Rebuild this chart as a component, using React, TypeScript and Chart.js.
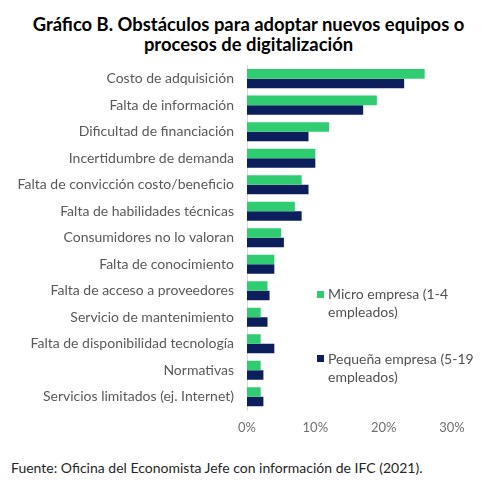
import React, { useEffect, useRef } from "react";
import { Chart, registerables } from "chart.js";

Chart.register(...registerables);

const categories = [
  "Costo de adquisición",
  "Falta de información",
  "Dificultad de financiación",
  "Incertidumbre de demanda",
  "Falta de convicción costo/beneficio",
  "Falta de habilidades técnicas",
  "Consumidores no lo valoran",
  "Falta de conocimiento",
  "Falta de acceso a proveedores",
  "Servicio de mantenimiento",
  "Falta de disponibilidad tecnología",
  "Normativas",
  "Servicios limitados (ej. Internet)",
];

const microValues = [26, 19, 12, 10, 8, 7, 5, 4, 3, 2, 2, 2, 2];
const pequenaValues = [23, 17, 9, 10, 9, 8, 5.4, 4, 3.3, 3, 4, 2.4, 2.4];

const seriesLabels = ["Micro empresa (1-4 empleados)", "Pequeña empresa (5-19 empleados)"];
const legendLines = [
  ["Micro empresa (1-4", "empleados)"],
  ["Pequeña empresa (5-19", "empleados)"],
];
const xTicks = [0, 10, 20, 30];

const GREEN = "#2fcc72";
const NAVY = "#0c1f5c";
const FONT = "Lato, 'Open Sans', sans-serif";

export default function App() {
  const ref = useRef<HTMLCanvasElement | null>(null);

  useEffect(() => {
    if (!ref.current) return;
    const chart = new Chart(ref.current, {
      type: "bar",
      data: {
        labels: categories,
        datasets: [
          {
            label: seriesLabels[0],
            data: microValues,
            backgroundColor: GREEN,
            categoryPercentage: 0.72,
            barPercentage: 1,
          },
          {
            label: seriesLabels[1],
            data: pequenaValues,
            backgroundColor: NAVY,
            categoryPercentage: 0.72,
            barPercentage: 1,
          },
        ],
      },
      options: {
        indexAxis: "y",
        animation: false,
        responsive: false,
        maintainAspectRatio: false,
        layout: { padding: { top: 0, right: 45, bottom: 0, left: 0 } },
        plugins: {
          legend: { display: false },
          tooltip: { enabled: false },
          title: { display: false },
        },
        scales: {
          x: {
            min: 0,
            max: 30,
            afterBuildTicks: (s: any) => {
              s.ticks = xTicks.map((v) => ({ value: v }));
            },
            afterFit: (s: any) => {
              s.height = 31;
            },
            grid: { display: false, drawTicks: false },
            border: { display: false },
            ticks: {
              padding: 10,
              color: "#6f6f6f",
              font: { family: FONT, size: 13 },
              callback: (v: any) => v + "%",
            },
          },
          y: {
            afterFit: (s: any) => {
              s.width = 247;
            },
            grid: { display: false, drawTicks: false },
            border: { display: true, color: "#d9d9d9", width: 1 },
            ticks: {
              padding: 13,
              color: "#595959",
              font: { family: FONT, size: 14 },
              autoSkip: false,
            },
          },
        },
      },
    });
    return () => chart.destroy();
  }, []);

  const textStyle: React.CSSProperties = {
    position: "absolute",
    fontFamily: FONT,
    fontSize: 14,
    color: "#505050",
    lineHeight: "18px",
    whiteSpace: "nowrap",
  };

  return (
    <div style={{ position: "absolute", left: 0, top: 0, width: 497, height: 483, background: "#fff", overflow: "hidden" }}>
      <div
        style={{
          position: "absolute",
          left: 0,
          top: 14,
          width: 497,
          textAlign: "center",
          fontFamily: FONT,
          fontWeight: 700,
          fontSize: 18.4,
          lineHeight: "20px",
          color: "#000",
        }}
      >
        Gráfico B. Obstáculos para adoptar nuevos equipos o
        <br />
        procesos de digitalización
      </div>
      <canvas ref={ref} width={497} height={397} style={{ position: "absolute", left: 0, top: 44, width: 497, height: 397 }} />
      <div style={{ position: "absolute", left: 317, top: 291, width: 7, height: 7, background: GREEN }} />
      <div style={{ ...textStyle, left: 328, top: 285 }}>
        {legendLines[0][0]}
        <br />
        {legendLines[0][1]}
      </div>
      <div style={{ position: "absolute", left: 317, top: 355, width: 7, height: 7, background: NAVY }} />
      <div style={{ ...textStyle, left: 328, top: 350 }}>
        {legendLines[1][0]}
        <br />
        {legendLines[1][1]}
      </div>
      <div style={{ ...textStyle, left: 11, top: 459, color: "#262626" }}>
        Fuente: Oficina del Economista Jefe con información de IFC (2021).
      </div>
    </div>
  );
}
